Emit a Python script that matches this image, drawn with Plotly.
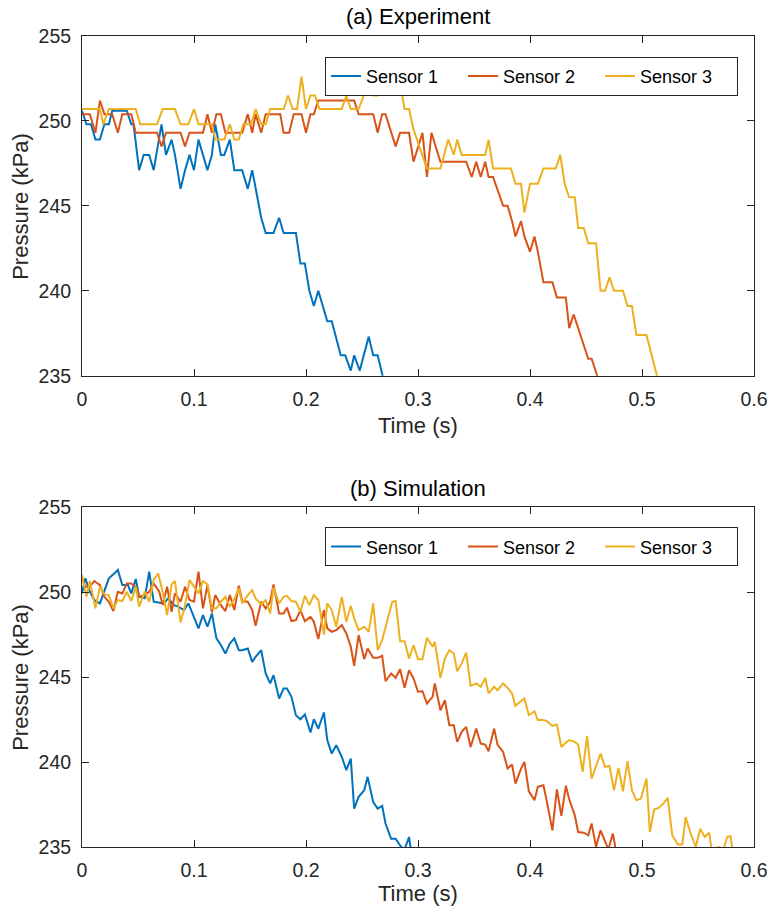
import plotly.graph_objects as go

# ---------------- (a) Experiment ----------------
exp_t1 = [0.000, 0.004, 0.008, 0.012, 0.016, 0.020, 0.024, 0.027, 0.040, 0.044, 0.046, 0.051, 0.055, 0.060,
          0.064, 0.071, 0.075, 0.080, 0.083, 0.088, 0.092, 0.096, 0.100, 0.104, 0.108, 0.112, 0.116, 0.119,
          0.124, 0.127, 0.132, 0.136, 0.143, 0.148, 0.152, 0.155, 0.160, 0.164, 0.171, 0.176, 0.180, 0.191,
          0.195, 0.199, 0.203, 0.207, 0.211, 0.215, 0.219, 0.223, 0.227, 0.231, 0.235, 0.240, 0.243, 0.248,
          0.256, 0.260, 0.264, 0.268, 0.272]
exp_p1 = [250.6, 249.8, 249.8, 248.9, 248.9, 249.8, 249.8, 250.6, 250.6, 249.8, 249.8, 247.1, 248.0, 248.0,
          247.1, 249.8, 248.0, 248.9, 248.0, 246.0, 247.1, 248.0, 247.1, 248.9, 248.0, 247.1, 248.0, 249.8,
          248.0, 248.0, 248.9, 247.1, 247.1, 246.0, 247.1, 246.0, 244.3, 243.4, 243.4, 244.3, 243.4, 243.4,
          241.6, 241.6, 240.0, 239.1, 240.0, 239.1, 238.2, 238.2, 237.2, 236.2, 236.2, 235.3, 236.2, 235.3,
          237.3, 236.2, 236.2, 235.0, 234.0]

exp_t2 = [0.000, 0.007, 0.012, 0.016, 0.020, 0.027, 0.032, 0.036, 0.044, 0.048, 0.067, 0.071, 0.075, 0.088,
          0.092, 0.096, 0.108, 0.112, 0.116, 0.120, 0.124, 0.128, 0.143, 0.148, 0.152, 0.155, 0.160, 0.164,
          0.177, 0.180, 0.185, 0.189, 0.196, 0.200, 0.204, 0.207, 0.211, 0.243, 0.247, 0.260, 0.264, 0.268,
          0.271, 0.276, 0.280, 0.284, 0.292, 0.296, 0.300, 0.304, 0.308, 0.312, 0.320, 0.343, 0.348, 0.352,
          0.356, 0.360, 0.363, 0.367, 0.376, 0.380, 0.384, 0.387, 0.392, 0.395, 0.400, 0.404, 0.407, 0.412,
          0.420, 0.424, 0.432, 0.435, 0.439, 0.443, 0.448, 0.452, 0.455, 0.460, 0.464]
exp_p2 = [250.4, 250.4, 249.3, 251.2, 250.4, 250.4, 249.3, 250.4, 250.4, 249.3, 249.3, 248.5, 249.3, 249.3,
          248.5, 249.3, 249.3, 250.4, 249.3, 250.4, 250.4, 249.3, 249.3, 250.4, 249.3, 250.4, 249.3, 250.4,
          250.4, 249.3, 249.3, 250.4, 250.4, 249.3, 250.4, 250.4, 251.2, 251.2, 250.4, 250.4, 249.3, 250.4,
          250.4, 249.3, 248.5, 249.3, 249.3, 247.6, 248.5, 249.3, 246.7, 249.3, 247.6, 247.6, 246.7, 247.6,
          246.7, 247.6, 246.7, 246.7, 245.0, 245.0, 244.1, 243.2, 244.1, 243.2, 242.3, 243.2, 242.3, 240.5,
          240.5, 239.6, 239.6, 237.8, 238.6, 237.8, 236.9, 236.0, 236.0, 235.0, 234.2]

exp_t3 = [0.000, 0.016, 0.019, 0.024, 0.048, 0.052, 0.067, 0.072, 0.083, 0.088, 0.095, 0.100, 0.104, 0.116,
          0.119, 0.127, 0.132, 0.136, 0.140, 0.144, 0.151, 0.155, 0.160, 0.164, 0.168, 0.180, 0.184, 0.188,
          0.192, 0.196, 0.200, 0.204, 0.208, 0.212, 0.232, 0.236, 0.240, 0.247, 0.255, 0.260, 0.264, 0.268,
          0.277, 0.283, 0.288, 0.292, 0.296, 0.301, 0.308, 0.320, 0.327, 0.332, 0.335, 0.339, 0.360, 0.363,
          0.367, 0.383, 0.387, 0.392, 0.395, 0.400, 0.407, 0.412, 0.423, 0.427, 0.431, 0.435, 0.440, 0.443,
          0.448, 0.452, 0.459, 0.463, 0.467, 0.471, 0.475, 0.483, 0.487, 0.491, 0.495, 0.504, 0.514, 0.520]
exp_p3 = [250.7, 250.7, 249.8, 250.7, 250.7, 249.8, 249.8, 250.7, 250.7, 249.8, 249.8, 250.7, 249.8, 249.8,
          248.9, 248.9, 249.8, 248.9, 248.9, 249.8, 249.8, 250.7, 249.8, 249.8, 250.7, 250.7, 251.5, 250.7,
          250.7, 252.6, 250.7, 251.5, 251.5, 250.7, 250.7, 251.5, 250.7, 250.7, 252.1, 251.5, 251.5, 252.6,
          252.6, 252.6, 250.7, 250.7, 249.5, 248.5, 247.2, 247.2, 248.9, 248.0, 248.9, 248.0, 248.0, 248.9,
          247.2, 247.2, 246.3, 246.3, 244.6, 246.3, 246.3, 247.2, 247.2, 248.0, 246.3, 245.5, 245.5, 243.7,
          243.7, 242.8, 242.8, 240.0, 240.0, 240.8, 240.0, 240.0, 239.1, 239.1, 237.4, 237.4, 235.0, 233.3]

# ---------------- (b) Simulation ----------------
sim_t1 = [0.000, 0.003, 0.007, 0.011, 0.016, 0.020, 0.024, 0.029, 0.032, 0.036, 0.041, 0.044, 0.048, 0.051,
          0.056, 0.060, 0.064, 0.068, 0.073, 0.077, 0.082, 0.086, 0.091, 0.095, 0.099, 0.104, 0.108, 0.112,
          0.116, 0.120, 0.124, 0.128, 0.132, 0.136, 0.140, 0.143, 0.148, 0.152, 0.155, 0.160, 0.164, 0.168,
          0.171, 0.176, 0.180, 0.183, 0.187, 0.191, 0.195, 0.199, 0.204, 0.207, 0.211, 0.216, 0.219, 0.223,
          0.227, 0.232, 0.236, 0.240, 0.243, 0.247, 0.252, 0.255, 0.260, 0.264, 0.268, 0.271, 0.276, 0.280,
          0.285, 0.288, 0.292, 0.294]
sim_p1 = [249.93, 250.82, 250.03, 249.54, 249.34, 250.03, 250.82, 251.11, 251.31, 250.42, 250.42, 249.93,
          250.78, 249.73, 249.64, 251.21, 249.44, 249.40, 249.34, 249.64, 249.24, 249.15, 248.95, 249.34,
          248.65, 247.87, 248.65, 247.97, 248.75, 247.28, 246.89, 246.39, 246.98, 247.28, 246.59, 246.59,
          246.69, 245.90, 246.20, 246.59, 245.22, 244.63, 245.12, 243.74, 244.33, 244.33, 243.84, 242.76,
          242.52, 242.80, 241.74, 242.52, 241.97, 242.92, 241.29, 240.50, 240.99, 240.30, 239.52, 240.21,
          237.26, 237.95, 238.34, 239.13, 237.65, 237.26, 237.42, 236.38, 235.49, 235.49, 235.00, 234.86,
          235.59, 234.70]

sim_t2 = [0.000, 0.003, 0.007, 0.011, 0.016, 0.020, 0.024, 0.028, 0.032, 0.036, 0.040, 0.044, 0.048, 0.051,
          0.056, 0.060, 0.064, 0.069, 0.072, 0.076, 0.080, 0.083, 0.088, 0.092, 0.096, 0.100, 0.104, 0.108,
          0.112, 0.116, 0.119, 0.124, 0.128, 0.132, 0.136, 0.140, 0.143, 0.148, 0.152, 0.155, 0.160, 0.164,
          0.168, 0.171, 0.176, 0.180, 0.183, 0.187, 0.191, 0.195, 0.199, 0.204, 0.207, 0.211, 0.216, 0.219,
          0.223, 0.227, 0.232, 0.236, 0.240, 0.243, 0.247, 0.252, 0.255, 0.260, 0.264, 0.268, 0.271, 0.276,
          0.280, 0.284, 0.288, 0.292, 0.296, 0.300, 0.304, 0.308, 0.313, 0.315, 0.320, 0.324, 0.328, 0.332,
          0.335, 0.339, 0.343, 0.347, 0.352, 0.356, 0.360, 0.363, 0.368, 0.371, 0.376, 0.380, 0.384, 0.387,
          0.392, 0.395, 0.399, 0.404, 0.407, 0.412, 0.415, 0.420, 0.424, 0.428, 0.432, 0.435, 0.440, 0.443,
          0.448, 0.452, 0.455, 0.459, 0.463, 0.467, 0.470, 0.474, 0.477]
sim_p2 = [250.82, 250.32, 250.32, 250.66, 250.42, 249.73, 249.44, 248.89, 250.03, 249.93, 250.52, 250.52,
          250.32, 249.73, 249.83, 250.03, 250.52, 250.03, 249.24, 250.32, 248.85, 249.93, 249.44, 250.32,
          249.54, 249.44, 251.21, 249.05, 250.42, 248.81, 249.83, 249.24, 248.89, 249.83, 248.95, 250.38,
          249.48, 249.44, 248.95, 248.03, 249.44, 249.05, 249.44, 250.46, 248.75, 248.75, 249.09, 248.30,
          248.36, 248.95, 248.30, 248.55, 248.26, 247.24, 248.95, 247.87, 247.67, 247.77, 248.06, 247.57,
          246.79, 245.67, 247.48, 246.06, 246.69, 246.14, 246.14, 246.26, 244.76, 245.22, 244.96, 245.47,
          244.37, 245.41, 244.92, 244.14, 244.17, 243.45, 243.84, 244.63, 243.05, 243.64, 242.17, 242.17,
          241.19, 241.78, 242.07, 240.89, 241.97, 241.09, 241.03, 240.64, 241.97, 241.03, 240.60, 239.62,
          239.85, 238.73, 239.62, 240.01, 238.28, 237.75, 238.54, 238.63, 237.69, 235.98, 238.40, 236.83,
          238.60, 237.81, 236.87, 235.88, 235.84, 235.69, 236.38, 235.00, 235.98, 235.39, 234.86, 235.79,
          234.70]

sim_t3 = [0.000, 0.004, 0.007, 0.012, 0.016, 0.020, 0.024, 0.028, 0.032, 0.036, 0.040, 0.044, 0.048, 0.051,
          0.056, 0.060, 0.064, 0.068, 0.072, 0.076, 0.080, 0.083, 0.088, 0.092, 0.096, 0.100, 0.104, 0.108,
          0.112, 0.116, 0.120, 0.124, 0.128, 0.132, 0.136, 0.140, 0.143, 0.148, 0.152, 0.155, 0.160, 0.164,
          0.168, 0.171, 0.176, 0.180, 0.183, 0.187, 0.191, 0.195, 0.199, 0.203, 0.207, 0.211, 0.216, 0.219,
          0.223, 0.227, 0.232, 0.236, 0.240, 0.243, 0.247, 0.252, 0.256, 0.260, 0.264, 0.268, 0.273, 0.277,
          0.280, 0.284, 0.288, 0.292, 0.296, 0.300, 0.304, 0.308, 0.313, 0.315, 0.320, 0.324, 0.328, 0.332,
          0.335, 0.339, 0.343, 0.347, 0.352, 0.356, 0.360, 0.363, 0.368, 0.371, 0.376, 0.380, 0.384, 0.387,
          0.392, 0.395, 0.399, 0.404, 0.407, 0.412, 0.415, 0.420, 0.424, 0.428, 0.432, 0.435, 0.440, 0.443,
          0.447, 0.451, 0.455, 0.459, 0.463, 0.467, 0.471, 0.475, 0.479, 0.483, 0.487, 0.491, 0.495, 0.499,
          0.504, 0.507, 0.511, 0.515, 0.519, 0.523, 0.527, 0.532, 0.536, 0.539, 0.543, 0.548, 0.552, 0.556,
          0.560, 0.562, 0.565, 0.568, 0.573, 0.576, 0.579, 0.581]
sim_p3 = [251.01, 249.73, 250.66, 249.05, 250.32, 249.87, 249.83, 249.05, 249.54, 249.48, 250.03, 249.48,
          250.32, 249.15, 250.03, 249.44, 250.72, 251.11, 250.03, 248.65, 250.46, 250.66, 248.22, 249.24,
          250.72, 250.32, 249.93, 250.66, 250.46, 249.05, 249.05, 249.44, 249.73, 249.15, 249.60, 250.23,
          249.34, 249.83, 250.13, 249.64, 249.28, 249.54, 248.75, 250.27, 249.34, 249.73, 249.79, 249.48,
          249.44, 248.85, 249.79, 249.24, 249.83, 249.54, 247.51, 249.34, 248.95, 247.97, 249.73, 248.26,
          249.20, 248.46, 247.77, 247.97, 247.67, 249.34, 246.59, 247.18, 248.46, 249.44, 249.48, 247.12,
          247.12, 246.10, 246.89, 246.06, 246.06, 247.32, 246.79, 247.08, 244.96, 246.10, 246.59, 246.39,
          245.35, 245.81, 246.45, 244.49, 244.63, 244.43, 244.96, 244.04, 244.43, 244.23, 244.63, 244.37,
          244.04, 243.31, 243.59, 243.74, 242.76, 242.99, 242.47, 242.47, 242.41, 242.13, 242.21, 240.89,
          241.15, 241.29, 241.19, 241.03, 239.42, 241.54, 239.03, 239.81, 240.50, 239.72, 239.77, 238.34,
          239.66, 238.28, 240.05, 238.34, 237.75, 237.85, 239.03, 235.88, 237.22, 237.30, 237.55, 237.89,
          235.69, 235.14, 235.14, 236.77, 235.88, 235.00, 236.08, 235.59, 235.84, 234.90, 234.70, 235.00,
          234.90, 235.59, 235.65, 234.80]

series_names = ["Sensor 1", "Sensor 2", "Sensor 3"]
colors = ["#0072BD", "#D95319", "#EDB120"]
titles = ["(a) Experiment", "(b) Simulation"]
x_ticks = [0, 0.1, 0.2, 0.3, 0.4, 0.5, 0.6]
y_ticks = [235, 240, 245, 250, 255]

FONT = "Liberation Sans, Arial, Helvetica, sans-serif"
AX = "#262626"

fig = go.Figure()

panels = [
    ([exp_t1, exp_t2, exp_t3], [exp_p1, exp_p2, exp_p3], "x", "y", "legend"),
    ([sim_t1, sim_t2, sim_t3], [sim_p1, sim_p2, sim_p3], "x2", "y2", "legend2"),
]
for ts, ps, xa, ya, lg in panels:
    for name, col, t, p in zip(series_names, colors, ts, ps):
        fig.add_trace(go.Scatter(x=t, y=p, mode="lines", name=name, xaxis=xa, yaxis=ya,
                                 legend=lg, line=dict(color=col, width=2)))

axis_common = dict(showline=True, linecolor=AX, linewidth=1, mirror="ticks", ticks="inside",
                   ticklen=7, tickwidth=1, tickcolor=AX, showgrid=False, zeroline=False,
                   tickfont=dict(family=FONT, size=19.5, color=AX))

H = 918
top_px, bot_px = 36, 71
plot_h = H - top_px - bot_px


def py(pix):
    return (H - bot_px - pix) / plot_h


dom_a = [py(375.7), 1.0]
dom_b = [0.0, py(507.3)]

fig.update_layout(
    width=780, height=918,
    margin=dict(l=82, r=17, t=top_px, b=bot_px),
    paper_bgcolor="white", plot_bgcolor="white",
    font=dict(family=FONT, color="#000000"),
    xaxis=dict(axis_common, range=[0, 0.6], tickvals=x_ticks, anchor="y", domain=[0, 1],
               ticklabelstandoff=6),
    yaxis=dict(axis_common, range=[235, 255], tickvals=y_ticks, anchor="x", domain=dom_a,
               ticklabelstandoff=6),
    xaxis2=dict(axis_common, range=[0, 0.6], tickvals=x_ticks, anchor="y2", domain=[0, 1],
                ticklabelstandoff=6),
    yaxis2=dict(axis_common, range=[235, 255], tickvals=y_ticks, anchor="x2", domain=dom_b,
                ticklabelstandoff=6),
    showlegend=True,
)

leg_common = dict(orientation="h", xanchor="left", yanchor="top", bgcolor="white",
                  bordercolor=AX, borderwidth=1, font=dict(family=FONT, size=18, color="#000000"),
                  xref="paper", yref="paper", entrywidth=92, entrywidthmode="pixels",
                  tracegroupgap=0, itemwidth=30)
fig.update_layout(
    legend=dict(leg_common, x=(328.3 - 82) / 681, y=py(56.7)),
    legend2=dict(leg_common, x=(328.3 - 82) / 681, y=py(527.3)),
)

ann = []
for ttl, ypix in zip(titles, [17, 488]):
    ann.append(dict(text=ttl, x=0.5, y=py(ypix), xref="paper", yref="paper", showarrow=False,
                    xanchor="center", yanchor="middle", font=dict(family=FONT, size=22, color="#000000")))
for ypix in [425, 893]:
    ann.append(dict(text="Time (s)", x=0.5, y=py(ypix), xref="paper", yref="paper", showarrow=False,
                    xanchor="center", yanchor="middle", font=dict(family=FONT, size=22, color=AX)))
for ypix in [206, 677]:
    ann.append(dict(text="Pressure (kPa)", x=(19 - 82) / 681, y=py(ypix), xref="paper", yref="paper",
                    showarrow=False, textangle=-90, xanchor="center", yanchor="middle",
                    font=dict(family=FONT, size=22, color=AX)))
fig.update_layout(annotations=ann)

fig.write_html("out.html")
